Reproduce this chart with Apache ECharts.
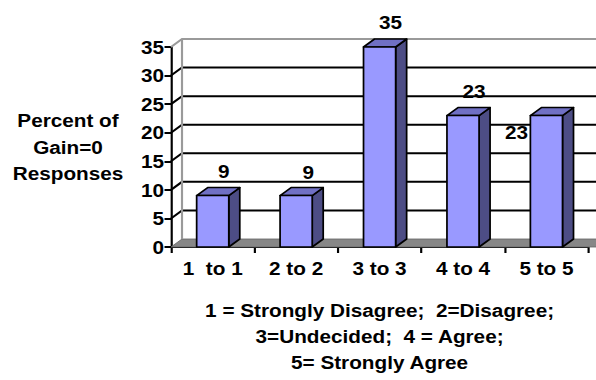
<!DOCTYPE html>
<html>
<head>
<meta charset="utf-8">
<script src="https://cdn.jsdelivr.net/npm/echarts@6/dist/echarts.min.js"></script>
<style>
  html, body { margin: 0; padding: 0; background: #fff; overflow: hidden; }
  #chart { height: 380px; transform-origin: 0 0; }
</style>
</head>
<body>
<div id="chart"></div>
<script>
// Survey responses: share of students reporting zero gain, per answer pair
const categories = ['1  to 1', '2 to 2', '3 to 3', '4 to 4', '5 to 5'];
const percentValues = [9, 9, 35, 23, 23];
const yTicks = [0, 5, 10, 15, 20, 25, 30, 35];
const yAxisTitle = 'Percent of\nGain=0\nResponses';
const xAxisTitle = '1 = Strongly Disagree;  2=Disagree;\n3=Undecided;  4 = Agree;\n5= Strongly Agree';

// Text in this chart is drawn slightly wide; the whole canvas is stretched horizontally.
const SX = 1.08;
const PAGE_W = 596;
const el = document.getElementById('chart');
el.style.width = (PAGE_W / SX) + 'px';
el.style.transform = 'scaleX(' + SX + ')';

// depth of the pseudo-3D box (screen px)
const DX = 11 / SX;
const DY = -8;
const BAR_RATIO = 0.385;

const FONT_SIZE = 19.2;
const FONT = { fontFamily: '"Liberation Sans", Arial, sans-serif', fontWeight: 'bold', fontSize: FONT_SIZE, color: '#000' };
const FRONT = '#9999ff';
const TOP = '#7070c4';
const SIDE = '#4d4d85';
const FLOOR = '#878787';
const WALL_EDGE = '#9a9a9a';

// per-bar label nudge relative to the top of the front face
const labelNudge = [[11, -24], [12, -23], [11, -25], [11, -24], [-30, 17]];

function renderWall(params, api) {
  const v = api.value(1);
  const band = api.size([1, 0])[0];
  const p = api.coord([0, v]);
  const L = p[0] - band / 2;
  const R = api.coord([categories.length - 1, v])[0] + band / 2;
  const y = p[1];
  const maxV = yTicks[yTicks.length - 1];
  if (v === 0) {
    return {
      type: 'polygon',
      shape: { points: [[L, y], [L + DX, y + DY], [R + DX + 20, y + DY], [R + 20, y]] },
      style: { fill: FLOOR, stroke: '#666', lineWidth: 0.8 }
    };
  }
  if (v === maxV) {
    const y0 = api.coord([0, 0])[1];
    return {
      type: 'group',
      children: [
        { type: 'polyline', shape: { points: [[L, y], [L + DX, y + DY], [R + DX + 20, y + DY]] },
          style: { stroke: WALL_EDGE, lineWidth: 2, fill: null } },
        { type: 'line', shape: { x1: L + DX, y1: y + DY, x2: L + DX, y2: y0 + DY },
          style: { stroke: WALL_EDGE, lineWidth: 2 } }
      ]
    };
  }
  return {
    type: 'polyline',
    shape: { points: [[L, y], [L + DX, y + DY], [R + DX + 20, y + DY]] },
    style: { stroke: '#000', lineWidth: 2, fill: null }
  };
}

function renderBar(params, api) {
  const i = api.value(0);
  const v = api.value(1);
  const top = api.coord([i, v]);
  const base = api.coord([i, 0]);
  const band = api.size([1, 0])[0];
  const w = band * BAR_RATIO;
  const x0 = top[0] - w / 2;
  const x1 = top[0] + w / 2;
  const yT = top[1];
  const yB = base[1];
  const nudge = labelNudge[params.dataIndex];
  const edge = { stroke: '#000', lineWidth: 1.6, lineJoin: 'round' };
  return {
    type: 'group',
    children: [
      { type: 'polygon', shape: { points: [[x1, yT], [x1 + DX, yT + DY], [x1 + DX, yB + DY], [x1, yB]] },
        style: Object.assign({ fill: SIDE }, edge) },
      { type: 'polygon', shape: { points: [[x0, yT], [x0 + DX, yT + DY], [x1 + DX, yT + DY], [x1, yT]] },
        style: Object.assign({ fill: TOP }, edge) },
      { type: 'rect', shape: { x: x0, y: yT, width: w, height: yB - yT },
        style: Object.assign({ fill: FRONT }, edge) },
      { type: 'text', x: top[0] + nudge[0] / SX, y: yT + nudge[1],
        style: { text: String(v), align: 'center', verticalAlign: 'middle',
          fill: '#000', font: 'bold ' + FONT_SIZE + 'px "Liberation Sans", Arial, sans-serif' } }
    ]
  };
}

const chart = echarts.init(el, null, { renderer: 'svg' });
chart.setOption({
  backgroundColor: '#fff',
  animation: false,
  grid: { left: 171 / SX, right: 8 / SX, top: 47, bottom: 127 },
  xAxis: {
    type: 'category',
    data: categories,
    boundaryGap: true,
    axisLine: { lineStyle: { color: '#000', width: 2 } },
    axisTick: { show: true, alignWithLabel: false, length: 6, lineStyle: { color: '#000', width: 2 } },
    axisLabel: Object.assign({ margin: 12 }, FONT),
    splitLine: { show: false },
    name: xAxisTitle,
    nameLocation: 'middle',
    nameGap: 50,
    nameTextStyle: Object.assign({ lineHeight: 26, align: 'center', verticalAlign: 'top' }, FONT)
  },
  yAxis: {
    type: 'value',
    min: 0,
    max: 35,
    interval: 5,
    axisLine: { show: true, lineStyle: { color: '#000', width: 2 } },
    axisTick: { show: true, length: 6, lineStyle: { color: '#000', width: 2 } },
    axisLabel: Object.assign({ margin: 7 / SX }, FONT),
    splitLine: { show: false },
    name: yAxisTitle,
    nameLocation: 'middle',
    nameRotate: 0,
    nameGap: 103 / SX,
    nameTextStyle: Object.assign({ lineHeight: 26.5, align: 'center', verticalAlign: 'middle', padding: [10, 0, 0, 0] }, FONT)
  },
  series: [
    {
      type: 'custom',
      name: 'walls',
      renderItem: renderWall,
      data: yTicks.map(function (t) { return [0, t]; }),
      z: 1,
      silent: true
    },
    {
      type: 'custom',
      name: 'Percent',
      renderItem: renderBar,
      data: percentValues.map(function (v, i) { return [i, v]; }),
      z: 3
    }
  ]
});
</script>
</body>
</html>
